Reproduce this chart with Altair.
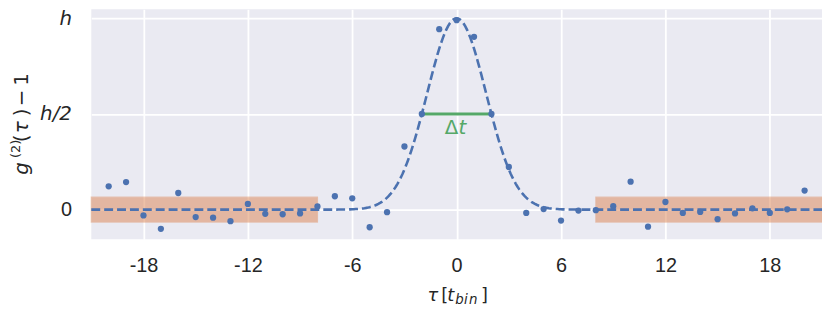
import altair as alt
import pandas as pd

# ---- data ----
tau = list(range(-20, 21))
g2 = [0.122, 0.144, -0.030, -0.100, 0.087, -0.039, -0.042, -0.060, 0.030, -0.022,
      -0.024, -0.020, 0.017, 0.070, 0.059, -0.092, -0.013, 0.330, 0.500, 0.943,
      0.990, 0.903, 0.500, 0.223, -0.017, 0.003, -0.057, -0.005, -0.003, 0.018,
      0.146, -0.089, 0.040, -0.017, -0.012, -0.050, -0.020, 0.007, -0.017, 0.002,
      0.100]

# Gaussian fit parameters (height h=1, centre 0, FWHM = 4 bins)
fit_h = 1.0
fit_mu = 0.0
fit_fwhm = 4.0

band_x_start = [-21, 8]
band_x_end = [-8, 21]
band_half = 0.065

fwhm_x = [-2, 2]
fwhm_y = 0.5

x_ticks = [-18, -12, -6, 0, 6, 12, 18]
y_ticks = [0, 0.5, 1]
x_dom = [-21, 21]
y_dom = [-0.155, 1.047]

BLUE = "#4C72B0"
ORANGE = "#DD8452"
GREEN = "#55A868"
TXT = "#262626"
MATH = "DejaVu Sans"
TICK = "Liberation Sans"

pts = pd.DataFrame({"tau": tau, "g": g2})
bands = pd.DataFrame({"x1": band_x_start, "x2": band_x_end,
                      "y1": [-band_half] * 2, "y2": [band_half] * 2})
seg = pd.DataFrame({"x": fwhm_x, "y": [fwhm_y] * 2})

xs = alt.Scale(domain=x_dom, nice=False, zero=False)
ys = alt.Scale(domain=y_dom, nice=False, zero=False)

xaxis = alt.Axis(values=x_ticks, labelExpr="'' + datum.value", title=None,
                 grid=True, gridColor="white", gridWidth=1.8, domain=False,
                 ticks=False, labelFont=TICK, labelFontSize=20,
                 labelColor=TXT, labelPadding=16)
yaxis = alt.Axis(values=y_ticks,
                 labelExpr="datum.value == 1 ? 'h' : datum.value == 0.5 ? 'h/2' : '0'",
                 labelFontStyle={"condition": {"test": "datum.value == 0", "value": "normal"},
                                 "value": "italic"},
                 labelFont={"condition": {"test": "datum.value == 0", "value": TICK},
                            "value": MATH},
                 title=None,
                 grid=True, gridColor="white", gridWidth=1.8, domain=False,
                 ticks=False, labelFontSize=20,
                 labelColor=TXT, labelPadding=20)

rect = alt.Chart(bands).mark_rect(color=ORANGE, opacity=0.5, stroke=ORANGE,
                                  strokeWidth=1.2, strokeOpacity=0.8).encode(
    x=alt.X("x1:Q", scale=xs, axis=xaxis), x2="x2:Q",
    y=alt.Y("y1:Q", scale=ys, axis=yaxis), y2="y2:Q")

curve = alt.Chart(alt.sequence(-210, 211, 1, as_="i")).transform_calculate(
    x="datum.i / 10",
    y=f"{fit_h} * exp(-4 * log(2) * pow((datum.i / 10 - {fit_mu}) / {fit_fwhm}, 2))"
).mark_line(color=BLUE, strokeWidth=2.6, strokeDash=[9, 4]).encode(
    x=alt.X("x:Q", scale=xs), y=alt.Y("y:Q", scale=ys))

segment = alt.Chart(seg).mark_line(color=GREEN, strokeWidth=3).encode(
    x=alt.X("x:Q", scale=xs), y=alt.Y("y:Q", scale=ys))

points = alt.Chart(pts).mark_circle(color=BLUE, size=40, opacity=1).encode(
    x=alt.X("tau:Q", scale=xs), y=alt.Y("g:Q", scale=ys))

dlabel = alt.Chart(pd.DataFrame({"a": [0]})).mark_text(
    text="Δ", color=GREEN, font=MATH, fontSize=20, align="right",
    baseline="alphabetic", dy=20).encode(x=alt.datum(0.1, scale=xs), y=alt.datum(fwhm_y, scale=ys))
tlabel = alt.Chart(pd.DataFrame({"a": [0]})).mark_text(
    text="t", color=GREEN, font=MATH, fontSize=20, fontStyle="italic",
    align="left", baseline="alphabetic", dy=20).encode(x=alt.datum(0.1, scale=xs), y=alt.datum(fwhm_y, scale=ys))

def tx(text, x, y, size=18, style="normal", angle=0, align="left"):
    kw = dict(text=text, font=MATH, fontSize=size, fontStyle=style, color=TXT,
              align=align, baseline="alphabetic")
    if angle:
        kw["angle"] = angle
    return alt.Chart(pd.DataFrame({"a": [0]})).mark_text(**kw).encode(
        x=alt.value(x), y=alt.value(y))

# x-axis title  τ [t_bin]
xtitle = [tx("τ", 339, 294.5, style="italic"), tx("[", 353, 294.5),
          tx("t", 359, 294.5, style="italic"),
          tx("b", 367, 297, size=13.5, style="italic"),
          tx("i", 376, 297, size=13.5, style="italic"),
          tx("n", 381, 297, size=13.5, style="italic"),
          tx("]", 393, 294.5)]

# y-axis title  g^(2)(τ) − 1  (rotated)
YB = -64
ytitle = [tx("g", YB, 167, size=20, style="italic", angle=270),
          tx("(2)", YB - 8, 150, size=13, angle=270),
          tx("(", YB, 134, size=20, angle=270),
          tx("τ", YB, 125, size=20, style="italic", angle=270),
          tx(")", YB, 108, size=20, angle=270),
          tx("−", YB, 89.5, size=20, angle=270, align="center"),
          tx("1", YB, 77, size=20, angle=270)]

chart = alt.layer(rect, curve, segment, points, dlabel, tlabel, *xtitle, *ytitle).properties(
    width=737, height=232,
    autosize=alt.AutoSizeParams(type="none"),
    padding={"left": 84, "top": 0, "right": 0, "bottom": 70},
).configure(background="white").configure_view(fill="#EAEAF2", stroke=None)

chart.save("out.html", embed_options={"renderer": "svg", "actions": False})
